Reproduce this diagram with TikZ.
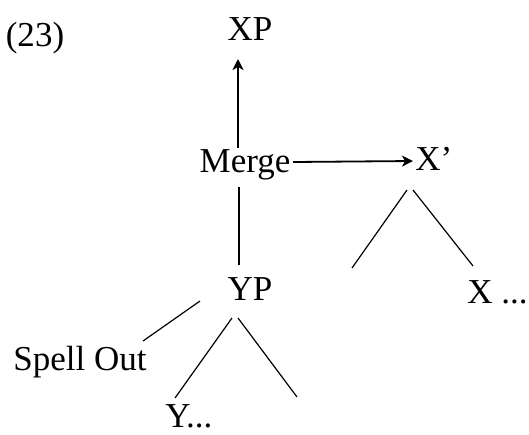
\documentclass[tikz,border=0pt]{standalone}
\usepackage{fontspec}
\setmainfont{Liberation Serif}
\usetikzlibrary{arrows.meta,calc}

\tikzset{every picture/.style={line width=0.75pt}}
\tikzset{
	lbl/.style={inner sep=0pt, anchor=base, font=\fontsize{35}{42}\selectfont},
	branch/.style={line width=1.2pt},
	move/.style={line width=1.8pt, -{Stealth[length=11pt,width=11pt,inset=3pt]}}}

\begin{document}
\begin{tikzpicture}[x=1pt,y=1pt,yscale=-1,xscale=1]
	%set diagram frame
	\useasboundingbox (0,0) rectangle (529,434);

	% Text Node
	\node[lbl] (num) at (35,46) {(23)};
	% Text Node
	\node[lbl] (xp) at (250,40) {XP};
	% Text Node
	\node[lbl] (merge) at (245,172) {Merge};
	% Text Node
	\node[lbl, anchor=base west] (xbar) at (415,170) {X’};
	% Text Node
	\node[lbl, anchor=base west] (xhead) at (467,303) {X ...};
	% Text Node
	\node[lbl] (yp) at (250,300) {YP};
	% Text Node
	\node[lbl] (spell) at (80,370) {Spell Out};
	% Text Node
	\node[lbl, anchor=base west] (yhead) at (165,427) {Y...};

	%free ends of the empty branches
	\coordinate (xleft) at (352,268);
	\coordinate (yright) at (297,397);

	%Arrows: Merge up to XP and over to X'
	\draw[move] ($(merge.base)+(-7,-24)$) -- ($(xp.base)+(-12,19)$);
	\draw[move] ($(merge.base)+(48,-10)$) -- ($(xbar.base west)+(-2,-9)$);
	%Straight Lines
	\draw[branch] ($(merge.base)+(-6,15)$) -- ($(yp.base)+(-11,-35)$);
	\draw[branch] ($(yp.base)+(-50,1)$) -- ($(spell.base)+(63,-29)$);
	%Tree under X'
	\draw[branch] ($(xbar.base west)+(-8,20)$) -- (xleft);
	\draw[branch] ($(xbar.base west)+(-2,20)$) -- ($(xhead.base west)+(6,-37)$);
	%Tree under YP
	\draw[branch] ($(yp.base)+(-18,18)$) -- ($(yhead.base west)+(10,-29)$);
	\draw[branch] ($(yp.base)+(-12,18)$) -- (yright);

\end{tikzpicture}
\end{document}
